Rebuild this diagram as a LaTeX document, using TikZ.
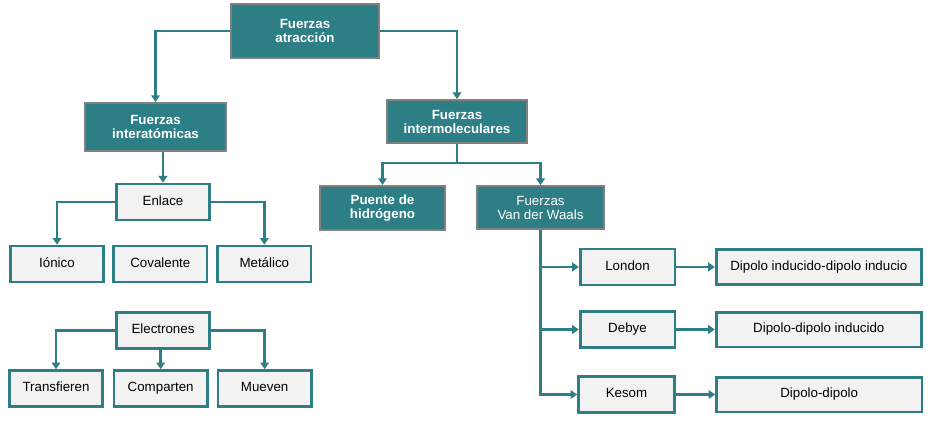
\documentclass[tikz,border=0pt]{standalone}
\usepackage{fontspec}
\setmainfont{Liberation Sans}
\usepackage{tikz}
\usetikzlibrary{arrows.meta, positioning}
\definecolor{tealbox}{RGB}{46,126,133}
\definecolor{greyline}{RGB}{128,128,128}
\definecolor{lightfill}{RGB}{242,242,242}
\tikzset{
    darkbox/.style={draw=greyline, line width=1.6pt, fill=tealbox, text=white, align=center, inner sep=0pt, font=\fontsize{10}{10.5}\selectfont\bfseries},
    vdwbox/.style={darkbox, font=\fontsize{10}{10.5}\selectfont},
    lightbox/.style={draw=tealbox, line width=2pt, fill=lightfill, align=center, inner sep=0pt, minimum width=70pt, minimum height=27pt, text height=7.2pt, text depth=2.2pt, font=\fontsize{10}{10.5}\selectfont},
    dipolebox/.style={lightbox, minimum width=154pt, minimum height=26pt},
    conn/.style={draw=tealbox, line width=2pt, -{Triangle[length=5pt, width=6.5pt]}}
}
\begin{document}
\begin{tikzpicture}[x=0.75pt, y=-0.75pt]
            \useasboundingbox (0,0) rectangle (935,431);
            \node (atraccion) [darkbox, minimum width=111pt, minimum height=40pt] at (305,31) {Fuerzas\\atracción};
            \node (interat) [darkbox, minimum width=106pt, minimum height=36pt] at (155.5,127) {Fuerzas\\interatómicas};
            \node (intermol) [darkbox, minimum width=105pt, minimum height=32pt] at (457,121.5) {Fuerzas\\intermoleculares};
            
                \node (enlace) [lightbox] at (163,202) {Enlace};
                \node (ionico) [lightbox] at (57,264) {Iónico};
                \node (covalente) [lightbox, right=5.5pt of ionico] {Covalente};
                \node (metalico) [lightbox, right=6pt of covalente] {Metálico};
            
                \node (electrones) [lightbox] at (163,330.5) {Electrones};
                \node (transfieren) [lightbox] at (56,388.5) {Transfieren};
                \node (comparten) [lightbox, right=6.5pt of transfieren] {Comparten};
                \node (mueven) [lightbox, right=6pt of comparten] {Mueven};
            
                \node (puente) [darkbox, minimum width=94pt, minimum height=33pt] at (382.5,208) {Puente de\\hidrógeno};
                \node (vdw) [vdwbox, minimum width=95pt, minimum height=32pt] at (540.5,207.5) {Fuerzas\\Van der Waals};
            
                \node (london) [lightbox, minimum width=71pt] at (627.5,267) {London};
                \node (debye) [lightbox, minimum width=71pt] at (627.5,329.5) {Debye};
                \node (kesom) [lightbox, minimum width=72pt] at (626.5,394.5) {Kesom};
                \node (inducido) [dipolebox, right=29pt of london] {Dipolo inducido-dipolo inducio};
                \node (dipind) [dipolebox, right=29pt of debye] {Dipolo-dipolo inducido};
                \node (dipdip) [dipolebox, right=29.5pt of kesom] {Dipolo-dipolo};
            
            \draw[conn] (atraccion.west) -| (interat.north);
            \draw[conn] (atraccion.east) -| (intermol.north);
            \draw[conn] (interat.south -| enlace.north) -- (enlace.north);
            \draw[conn] (enlace.west) -| (ionico.north);
            \draw[conn] (enlace.east) -| (metalico.north);
            \draw[conn] (electrones.west) -| (transfieren.north);
            \draw[conn] (electrones.south -| comparten.north) -- (comparten.north);
            \draw[conn] (electrones.east) -| (mueven.north);
            \draw[conn] (intermol.south) -- ++(0,19) -| (puente.north);
            \draw[conn] (intermol.south) -- ++(0,19) -| (vdw.north);
            \draw[conn] (vdw.south) |- (london.west);
            \draw[conn] (vdw.south) |- (debye.west);
            \draw[conn] (vdw.south) |- (kesom.west);
            \draw[conn] (london) -- (inducido);
            \draw[conn] (debye) -- (dipind);
            \draw[conn] (kesom) -- (dipdip);
\end{tikzpicture}
\end{document}
